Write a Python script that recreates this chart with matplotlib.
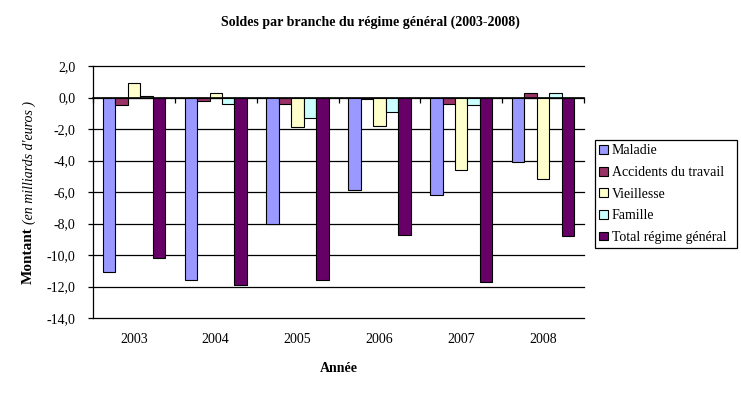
import matplotlib
matplotlib.use('Agg')
import matplotlib.pyplot as plt
import numpy as np
from matplotlib.patches import Patch
from matplotlib.ticker import FuncFormatter

# values (milliards d'euros)
annees = ['2003', '2004', '2005', '2006', '2007', '2008']
maladie = [-11.1, -11.6, -8.0, -5.9, -6.2, -4.1]
accidents = [-0.5, -0.2, -0.4, -0.1, -0.4, 0.3]
vieillesse = [0.9, 0.3, -1.9, -1.8, -4.6, -5.2]
famille = [0.1, -0.4, -1.3, -0.9, -0.5, 0.3]
total = [-10.2, -11.9, -11.6, -8.7, -11.7, -8.8]

series = [('Maladie', maladie, '#9999FF'),
	('Accidents du travail', accidents, '#993366'),
	('Vieillesse', vieillesse, '#FFFFCC'),
	('Famille', famille, '#CCFFFF'),
	('Total régime général', total, '#660066')]

plt.rcParams['font.family'] = ['Liberation Serif', 'DejaVu Serif']
plt.rcParams['font.size'] = 10

fig = plt.figure(figsize=(7.41, 3.96), dpi=100)
ax = fig.add_axes([93/741, 1-318/396, (584-93)/741, (318-66)/396])

x = np.arange(len(annees))
w = 0.152
for i, (nom, vals, col) in enumerate(series):
	ax.bar(x + (i-2)*w, vals, width=w, color=col, edgecolor='black', linewidth=0.8, zorder=3)

ax.set_xlim(-0.5, 5.5)
ax.set_ylim(-14, 2)
ax.set_yticks(np.arange(-14, 2.1, 2))
ax.yaxis.set_major_formatter(FuncFormatter(lambda v, p: ('%.1f' % v).replace('.', ',')))
ax.yaxis.grid(True, color='black', linewidth=0.9, zorder=0)
for gl in ax.get_ygridlines():
	gl.set_clip_on(False)
ax.tick_params(axis='y', direction='out', length=3.6, width=0.9, pad=9)
for s in ['top', 'right']:
	ax.spines[s].set_visible(False)
ax.spines['left'].set_linewidth(0.9)
ax.spines['bottom'].set_position(('data', 0))
ax.spines['bottom'].set_linewidth(1.2)
ax.spines['bottom'].set_zorder(4)
ax.set_xticks(np.arange(-0.5, 5.6, 1))
ax.set_xticklabels([])
ax.tick_params(axis='x', direction='out', length=3.6, width=0.9)

sec = ax.secondary_xaxis('bottom')
sec.set_xticks(x)
sec.set_xticklabels(annees)
sec.tick_params(length=0, pad=11)
sec.spines['bottom'].set_visible(False)

fig.text(370/741, 1-22/396, 'Soldes par branche du régime général (2003-2008)',
	ha='center', va='center', fontweight='bold')
fig.text(338.5/741, 1-368/396, 'Année', ha='center', va='center', fontweight='bold')
fig.text(28/741, 1-284/396, 'Montant', rotation=90, ha='center', va='bottom', fontweight='bold', fontsize=11)
fig.text(29/741, 1-224/396, "(en milliards d'euros )", rotation=90, ha='center', va='bottom', fontstyle='italic')

handles = [Patch(facecolor=c, edgecolor='black', linewidth=0.8) for _, _, c in series]
leg = fig.legend(handles, [s[0] for s in series], loc='lower left',
	bbox_to_anchor=(595/741, 1-248/396, 142/741, 110/396), mode='expand',
	handlelength=0.6, handleheight=0.6, handletextpad=0.3, labelspacing=0.62,
	borderaxespad=0, borderpad=0.3, fancybox=False, framealpha=1)
leg.get_frame().set_edgecolor('black')
leg.get_frame().set_linewidth(0.9)

fig.savefig('out.png', dpi=100)
